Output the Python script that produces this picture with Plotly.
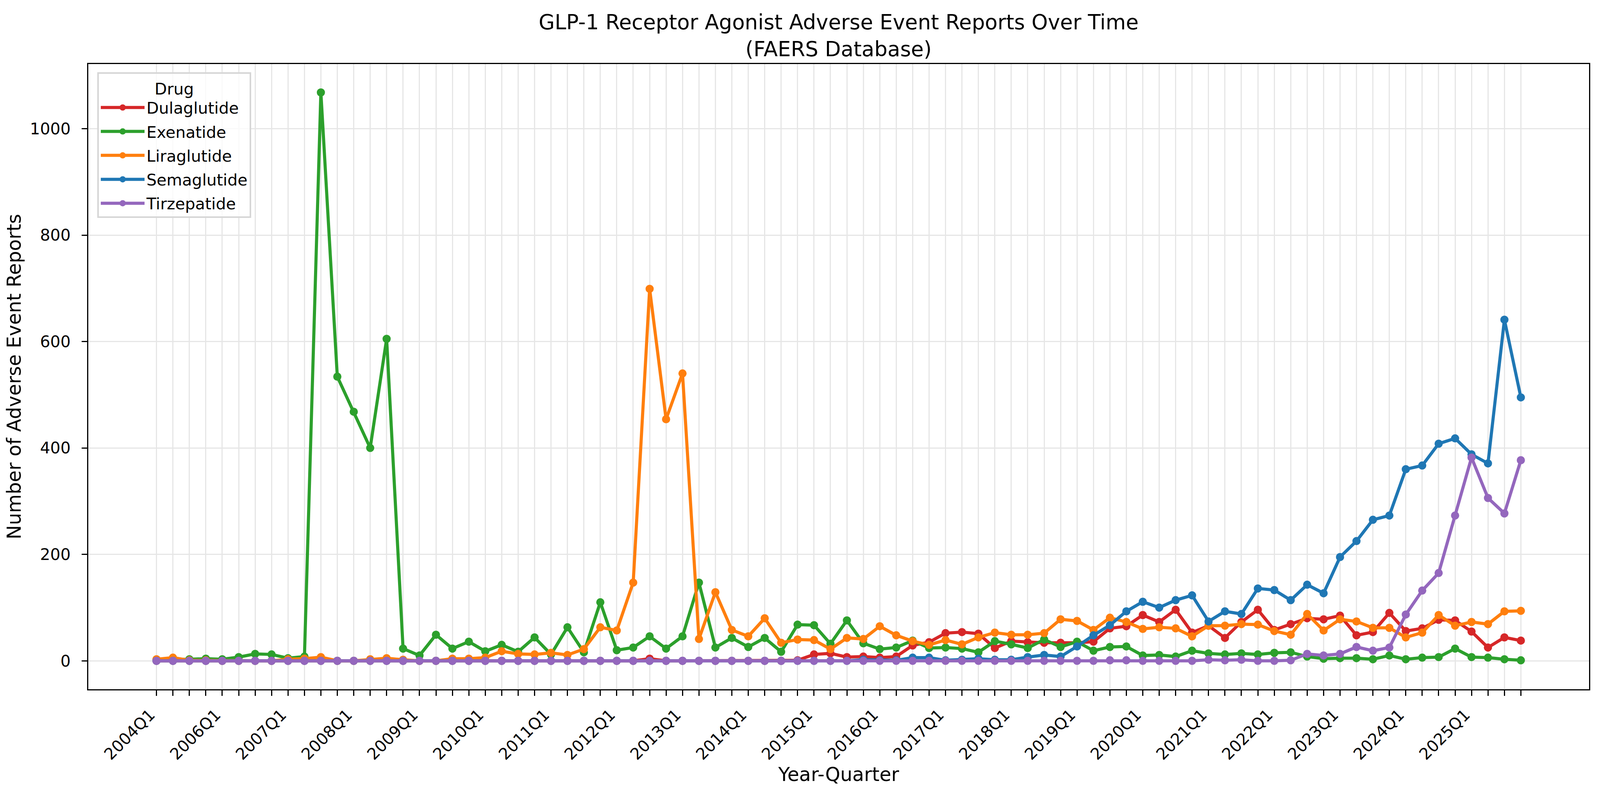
import plotly.graph_objects as go

FONT_FAMILY = "DejaVu Sans"

# quarters on the x axis (2005 partly missing in the source data)
QUARTERS = ["2004Q1", "2004Q2", "2004Q3", "2004Q4"] + [
    f"{y}Q{q}" for y in range(2006, 2026) for q in range(1, 5)
]
TICK_LABELS = [q if i % 4 == 0 else "" for i, q in enumerate(QUARTERS)]

DULAGLUTIDE = [
    0, 0, 0, 0, 0, 0, 0, 0, 0, 0,
    0, 0, 0, 0, 0, 0, 0, 0, 0, 0,
    0, 0, 0, 0, 0, 0, 0, 0, 0, 0,
    4, 0, 0, 0, 0, 0, 0, 0, 0, 1,
    12, 14, 7, 8, 6, 8, 29, 35, 52, 54,
    51, 24, 37, 35, 34, 34, 34, 36, 61, 65,
    86, 73, 96, 53, 66, 43, 73, 96, 58, 69,
    80, 78, 85, 48, 54, 90, 56, 61, 77, 76,
    55, 25, 44, 38,
]
EXENATIDE = [
    2, 2, 3, 4, 3, 7, 13, 12, 5, 8,
    1068, 534, 468, 400, 605, 23, 10, 49, 23, 36,
    18, 30, 17, 44, 12, 63, 16, 110, 20, 25,
    46, 23, 46, 147, 25, 43, 26, 43, 17, 68,
    67, 32, 76, 33, 22, 25, 38, 24, 25, 23,
    16, 37, 31, 24, 40, 26, 36, 19, 26, 27,
    10, 11, 8, 19, 14, 12, 14, 12, 15, 16,
    8, 4, 5, 5, 3, 10, 3, 6, 7, 23,
    7, 6, 3, 1,
]
LIRAGLUTIDE = [
    3, 6, 1, 1, 0, 0, 0, 0, 3, 4,
    7, 0, 0, 3, 5, 2, 0, 0, 4, 4,
    6, 18, 13, 12, 15, 11, 22, 63, 57, 147,
    699, 454, 540, 41, 129, 58, 46, 80, 34, 40,
    39, 22, 43, 41, 65, 48, 37, 30, 39, 31,
    44, 53, 49, 49, 52, 78, 75, 58, 81, 73,
    60, 63, 61, 46, 66, 66, 69, 68, 56, 49,
    88, 57, 78, 74, 62, 62, 44, 53, 86, 66,
    73, 69, 93, 94,
]
SEMAGLUTIDE = [
    0, 0, 0, 0, 0, 0, 0, 0, 0, 0,
    0, 0, 0, 0, 0, 0, 0, 0, 0, 0,
    0, 0, 0, 0, 0, 0, 0, 0, 0, 0,
    0, 0, 0, 0, 0, 0, 0, 0, 0, 0,
    0, 0, 0, 2, 1, 1, 6, 6, 1, 2,
    4, 2, 2, 7, 11, 8, 27, 48, 67, 93,
    111, 100, 114, 123, 74, 93, 88, 136, 133, 114,
    143, 127, 195, 225, 265, 273, 360, 367, 408, 418,
    388, 371, 641, 495,
]
TIRZEPATIDE = [
    0, 0, 0, 0, 0, 0, 0, 0, 0, 0,
    0, 0, 0, 0, 0, 0, 0, 0, 0, 0,
    0, 0, 0, 0, 0, 0, 0, 0, 0, 0,
    0, 0, 0, 0, 0, 0, 0, 0, 0, 0,
    0, 0, 0, 0, 0, 0, 0, 0, 0, 0,
    0, 0, 0, 0, 0, 0, 0, 0, 1, 1,
    0, 0, 0, 0, 2, 1, 2, 0, 0, 1,
    13, 10, 13, 26, 19, 25, 87, 132, 165, 273,
    382, 306, 277, 377,
]

SERIES = [
    ("Dulaglutide", DULAGLUTIDE, "#d62728"),
    ("Exenatide", EXENATIDE, "#2ca02c"),
    ("Liraglutide", LIRAGLUTIDE, "#ff7f0e"),
    ("Semaglutide", SEMAGLUTIDE, "#1f77b4"),
    ("Tirzepatide", TIRZEPATIDE, "#9467bd"),
]
Y_TICKS = [0, 200, 400, 600, 800, 1000]

fig = go.Figure()
for name, values, color in SERIES:
    fig.add_trace(go.Scatter(
        x=QUARTERS, y=values, mode="lines+markers", name=name,
        legendgroup=name,
        line=dict(color=color, width=8),
        marker=dict(color=color, size=21),
    ))

n = len(QUARTERS)
pad = (n - 1) * 0.05
GRID = "#e6e6e6"

# sized for the page as it is actually captured (body margin of 8px included)
fig.update_layout(
    width=4088, height=2022,
    paper_bgcolor="white", plot_bgcolor="white",
    margin=dict(l=218, r=28, t=156, b=265, autoexpand=False),
    font=dict(family=FONT_FAMILY, size=41, color="black"),
    title=dict(
        text="GLP-1 Receptor Agonist Adverse Event Reports Over Time<br>(FAERS Database)",
        x=0.5232, xanchor="center", y=0.967, yanchor="top",
        font=dict(size=53), automargin=False,
    ),
    xaxis=dict(
        type="category", automargin=False,
        range=[-pad, n - 1 + pad],
        tickmode="array", tickvals=QUARTERS, ticktext=TICK_LABELS,
        tickangle=-45,
        ticks="outside", ticklen=14, tickwidth=3, tickcolor="black",
        ticklabelstandoff=8, ticklabelshift=-16,
        showline=True, linecolor="black", linewidth=3, mirror=True,
        showgrid=True, gridcolor=GRID, gridwidth=3,
        title=dict(text="Year-Quarter", font=dict(size=49), standoff=0),
    ),
    yaxis=dict(
        automargin=False,
        range=[-53.4, 1121.4],
        tickmode="array", tickvals=Y_TICKS,
        ticks="outside", ticklen=14, tickwidth=3, tickcolor="black",
        ticklabelstandoff=20,
        showline=True, linecolor="black", linewidth=3, mirror=True,
        showgrid=True, gridcolor=GRID, gridwidth=3, zeroline=False,
        title=dict(text="Number of Adverse Event Reports", font=dict(size=49), standoff=8),
    ),
    legend=dict(
        x=0.006, y=0.987, xanchor="left", yanchor="top",
        bgcolor="rgba(255,255,255,0.8)", bordercolor="#d6d6d6", borderwidth=4,
        title=dict(text="Drug", side="top center", font=dict(size=41)),
        font=dict(size=41),
        itemwidth=112,
        tracegroupgap=5,
    ),
    showlegend=True,
)

fig.write_html("out.html")
